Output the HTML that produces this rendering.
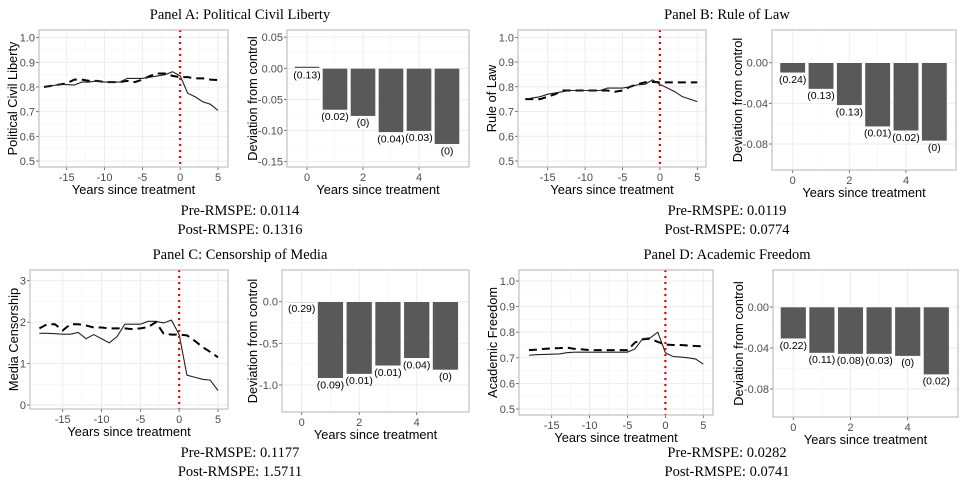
<!DOCTYPE html>
<html><head><meta charset="utf-8">
<style>
html,body{margin:0;padding:0;background:#fff;}
svg{display:block;}
.ttl{font-family:"Liberation Serif",serif;font-size:14.5px;fill:#000;}
.tick{font-family:"Liberation Sans",sans-serif;font-size:11px;fill:#4d4d4d;}
.axt{font-family:"Liberation Sans",sans-serif;font-size:12.8px;fill:#000;}
.bl{font-family:"Liberation Sans",sans-serif;font-size:10.5px;fill:#000;}
</style></head>
<body>
<svg id="chart" width="972" height="488" viewBox="0 0 972 488" xmlns="http://www.w3.org/2000/svg"></svg>
<script>
const years = [-18,-17,-16,-15,-14,-13,-12,-11,-10,-9,-8,-7,-6,-5,-4,-3,-2,-1,0,1,2,3,4,5];
const barYears = [0,1,2,3,4,5];
const solidA = [0.80,0.805,0.81,0.81,0.808,0.82,0.82,0.825,0.82,0.82,0.82,0.835,0.835,0.835,0.84,0.845,0.85,0.862,0.845,0.775,0.76,0.74,0.73,0.705];
const dashedA = [0.80,0.805,0.81,0.815,0.83,0.83,0.825,0.825,0.82,0.82,0.82,0.825,0.82,0.83,0.845,0.855,0.855,0.845,0.84,0.84,0.835,0.835,0.83,0.828];
const barsA = [0.003,-0.067,-0.077,-0.103,-0.101,-0.122];
const barLabelsA = ["(0.13)","(0.02)","(0)","(0.04)","(0.03)","(0)"];
const solidB = [0.75,0.755,0.76,0.77,0.775,0.78,0.785,0.785,0.785,0.785,0.785,0.795,0.795,0.795,0.80,0.808,0.81,0.828,0.81,0.795,0.78,0.76,0.75,0.74];
const dashedB = [0.75,0.75,0.75,0.76,0.77,0.785,0.785,0.785,0.785,0.785,0.785,0.785,0.78,0.785,0.80,0.81,0.818,0.82,0.818,0.818,0.818,0.818,0.818,0.818];
const barsB = [-0.010,-0.026,-0.042,-0.063,-0.067,-0.077];
const barLabelsB = ["(0.24)","(0.13)","(0.13)","(0.01)","(0.02)","(0)"];
const solidC = [1.73,1.73,1.72,1.71,1.71,1.75,1.6,1.7,1.6,1.5,1.65,1.95,1.95,1.95,2.02,2.02,1.98,2.05,1.7,0.72,0.67,0.62,0.6,0.35];
const dashedC = [1.85,1.95,1.95,1.8,1.95,1.95,1.92,1.87,1.87,1.85,1.85,1.85,1.83,1.85,1.88,2.0,1.72,1.7,1.7,1.68,1.55,1.4,1.28,1.15];
const barsC = [-0.005,-0.92,-0.87,-0.77,-0.68,-0.82];
const barLabelsC = ["(0.29)","(0.09)","(0.01)","(0.01)","(0.04)","(0)"];
const solidD = [0.71,0.712,0.713,0.714,0.715,0.72,0.722,0.722,0.722,0.722,0.722,0.722,0.722,0.722,0.735,0.775,0.778,0.80,0.72,0.705,0.703,0.70,0.695,0.675];
const dashedD = [0.73,0.732,0.735,0.737,0.738,0.74,0.735,0.733,0.73,0.73,0.73,0.73,0.73,0.73,0.76,0.772,0.775,0.762,0.752,0.75,0.75,0.748,0.746,0.745];
const barsD = [-0.031,-0.045,-0.046,-0.046,-0.048,-0.066];
const barLabelsD = ["(0.22)","(0.11)","(0.08)","(0.03)","(0)","(0.02)"];
const lineXTicks = [-15,-10,-5,0,5];
const barXTicks = [0,2,4];

const NS="http://www.w3.org/2000/svg";
const svg=document.getElementById('chart');
function el(tag,parent,attrs){const e=document.createElementNS(NS,tag);for(const k in attrs)e.setAttribute(k,attrs[k]);parent.appendChild(e);return e;}
function scale(v1,p1,v2,p2){return v=>p1+(v-v1)*(p2-p1)/(v2-v1);}

function frame(g,box,xs,ys,xticks,yticks,yfmt){
  const [L,T,R,B]=box;
  for(let i=0;i<yticks.length-1;i++){const m=(yticks[i]+yticks[i+1])/2;const l=el('line',g,{x1:L,x2:R,y1:ys(m),y2:ys(m),stroke:'#f4f4f4','stroke-width':0.6});}
  for(let i=0;i<xticks.length-1;i++){const m=(xticks[i]+xticks[i+1])/2;const l=el('line',g,{x1:xs(m),x2:xs(m),y1:T,y2:B,stroke:'#f4f4f4','stroke-width':0.6});}
  yticks.forEach(v=>{const y=ys(v);
    const l=el('line',g,{x1:L,x2:R,y1:y,y2:y,stroke:'#ebebeb','stroke-width':0.9});
    el('line',g,{x1:L-3,x2:L,y1:y,y2:y,stroke:'#555','stroke-width':0.8});
    const t=el('text',g,{x:L-4,y:y+4,'text-anchor':'end',class:'tick'});t.textContent=yfmt(v);});
  xticks.forEach(v=>{const x=xs(v);
    const l=el('line',g,{x1:x,x2:x,y1:T,y2:B,stroke:'#ebebeb','stroke-width':0.9});
    el('line',g,{x1:x,x2:x,y1:B,y2:B+3,stroke:'#555','stroke-width':0.8});
    const t=el('text',g,{x:x,y:B+14,'text-anchor':'middle',class:'tick'});t.textContent=String(v);});
}
function border(g,box){const [L,T,R,B]=box;const r=el('rect',g,{x:L,y:T,width:R-L,height:B-T,fill:'none',stroke:'#b3b3b3','stroke-width':1});}

function linePanel(id,box,xr,yr,yticks,yfmt,ytitle,solid,dashed,ytx){
  const g=el('g',svg,{});
  
  
  const [L,T,R,B]=box;
  const xs=scale(...xr), ys=scale(...yr);
  frame(g,box,xs,ys,lineXTicks,yticks,yfmt);
  const ptsS=years.map((yr_,i)=>xs(yr_)+','+ys(solid[i])).join(' ');
  const ptsD=years.map((yr_,i)=>xs(yr_)+','+ys(dashed[i])).join(' ');
  const d=el('polyline',g,{points:ptsD,fill:'none',stroke:'#000','stroke-width':2,'stroke-dasharray':'8,5'});
  
  
  const s=el('polyline',g,{points:ptsS,fill:'none',stroke:'#222','stroke-width':1.1});
  
  
  const v=el('line',g,{x1:xs(0),x2:xs(0),y1:T,y2:B,stroke:'#ee0000','stroke-width':2.2,'stroke-dasharray':'2,4'});
  
  
  border(g,box);
  const xt=el('text',g,{x:(L+R)/2,y:B+27,'text-anchor':'middle',class:'axt'});xt.textContent='Years since treatment';
  
  
  const yt=el('text',g,{x:0,y:0,'text-anchor':'middle',class:'axt',transform:`translate(${ytx},${(T+B)/2}) rotate(-90)`});yt.textContent=ytitle;
  
  
}
function barPanel(id,box,xr,yr,yticks,yfmt,bars,labels,ytx){
  const g=el('g',svg,{});
  
  
  const [L,T,R,B]=box;
  const xs=scale(...xr), ys=scale(...yr);
  frame(g,box,xs,ys,barXTicks,yticks,yfmt);
  const bw=(xs(1)-xs(0))*0.9;
  barYears.forEach((yr_,i)=>{
    const y0=ys(0), y1=ys(bars[i]);
    const r=el('rect',g,{x:xs(yr_)-bw/2,y:Math.min(y0,y1),width:bw,height:Math.max(Math.abs(y1-y0),0.8),fill:'#595959',stroke:'#fff','stroke-width':0.6});
    
    
    const t=el('text',g,{x:xs(yr_),y:Math.max(y0,y1)+10,'text-anchor':'middle',class:'bl'});t.textContent=labels[i];
    
    
  });
  border(g,box);
  const xt=el('text',g,{x:(L+R)/2,y:B+27,'text-anchor':'middle',class:'axt'});xt.textContent='Years since treatment';
  
  
  const yt=el('text',g,{x:0,y:0,'text-anchor':'middle',class:'axt',transform:`translate(${ytx},${(T+B)/2}) rotate(-90)`});yt.textContent='Deviation from control';
  
  
}
function txt(x,y,s,name){const t=el('text',svg,{x:x,y:y,'text-anchor':'middle',class:'ttl'});t.textContent=s;}

const f1=v=>v.toFixed(1), f2=v=>v.toFixed(2), f0=v=>v.toFixed(0);
linePanel('panel-a',[39,30,228,167],[-15,66.7,5,218],[1.0,37.7,0.5,161],[0.5,0.6,0.7,0.8,0.9,1.0],f1,'Political Civil Liberty',solidA,dashedA,17);
barPanel('panel-a',[287,30,469,167],[0,307,4,419],[0,68.3,-0.15,161.7],[0.05,0,-0.05,-0.10,-0.15],f2,barsA,barLabelsA,257);
linePanel('panel-b',[518,30,706,167],[-15,547.7,5,697.3],[1.0,37.3,0.5,161],[0.5,0.6,0.7,0.8,0.9,1.0],f1,'Rule of Law',solidB,dashedB,496);
barPanel('panel-b',[772,30,956,170],[0,792.7,4,906],[0,62.7,-0.08,144],[0,-0.04,-0.08],f2,barsB,barLabelsB,742);
linePanel('panel-c',[30,270,228,409],[-15,62.7,5,218],[3,280.7,0,405],[0,1,2,3],f0,'Media Censorship',solidC,dashedC,18);
barPanel('panel-c',[282,270,469,412],[0,301.7,4,416.7],[0,301.7,-1.0,385],[0,-0.5,-1.0],f1,barsC,barLabelsC,257);
linePanel('panel-d',[519,270,713,415],[-15,551.7,5,703.3],[1.0,281,0.5,409],[0.5,0.6,0.7,0.8,0.9,1.0],f1,'Academic Freedom',solidD,dashedD,497);
barPanel('panel-d',[773,270,958,417],[0,793.3,4,907.7],[0,307,-0.08,389],[0,-0.04,-0.08],f2,barsD,barLabelsD,743);

txt(240,19,'Panel A: Political Civil Liberty','panel-a-title');
txt(727,19,'Panel B: Rule of Law','panel-b-title');
txt(240,259,'Panel C: Censorship of Media','panel-c-title');
txt(727,259,'Panel D: Academic Freedom','panel-d-title');
txt(240,215,'Pre-RMSPE: 0.0114','panel-a-pre-rmspe');
txt(240,234,'Post-RMSPE: 0.1316','panel-a-post-rmspe');
txt(727,215,'Pre-RMSPE: 0.0119','panel-b-pre-rmspe');
txt(727,234,'Post-RMSPE: 0.0774','panel-b-post-rmspe');
txt(240,457,'Pre-RMSPE: 0.1177','panel-c-pre-rmspe');
txt(240,476,'Post-RMSPE: 1.5711','panel-c-post-rmspe');
txt(727,457,'Pre-RMSPE: 0.0282','panel-d-pre-rmspe');
txt(727,476,'Post-RMSPE: 0.0741','panel-d-post-rmspe');
</script>
</body></html>
